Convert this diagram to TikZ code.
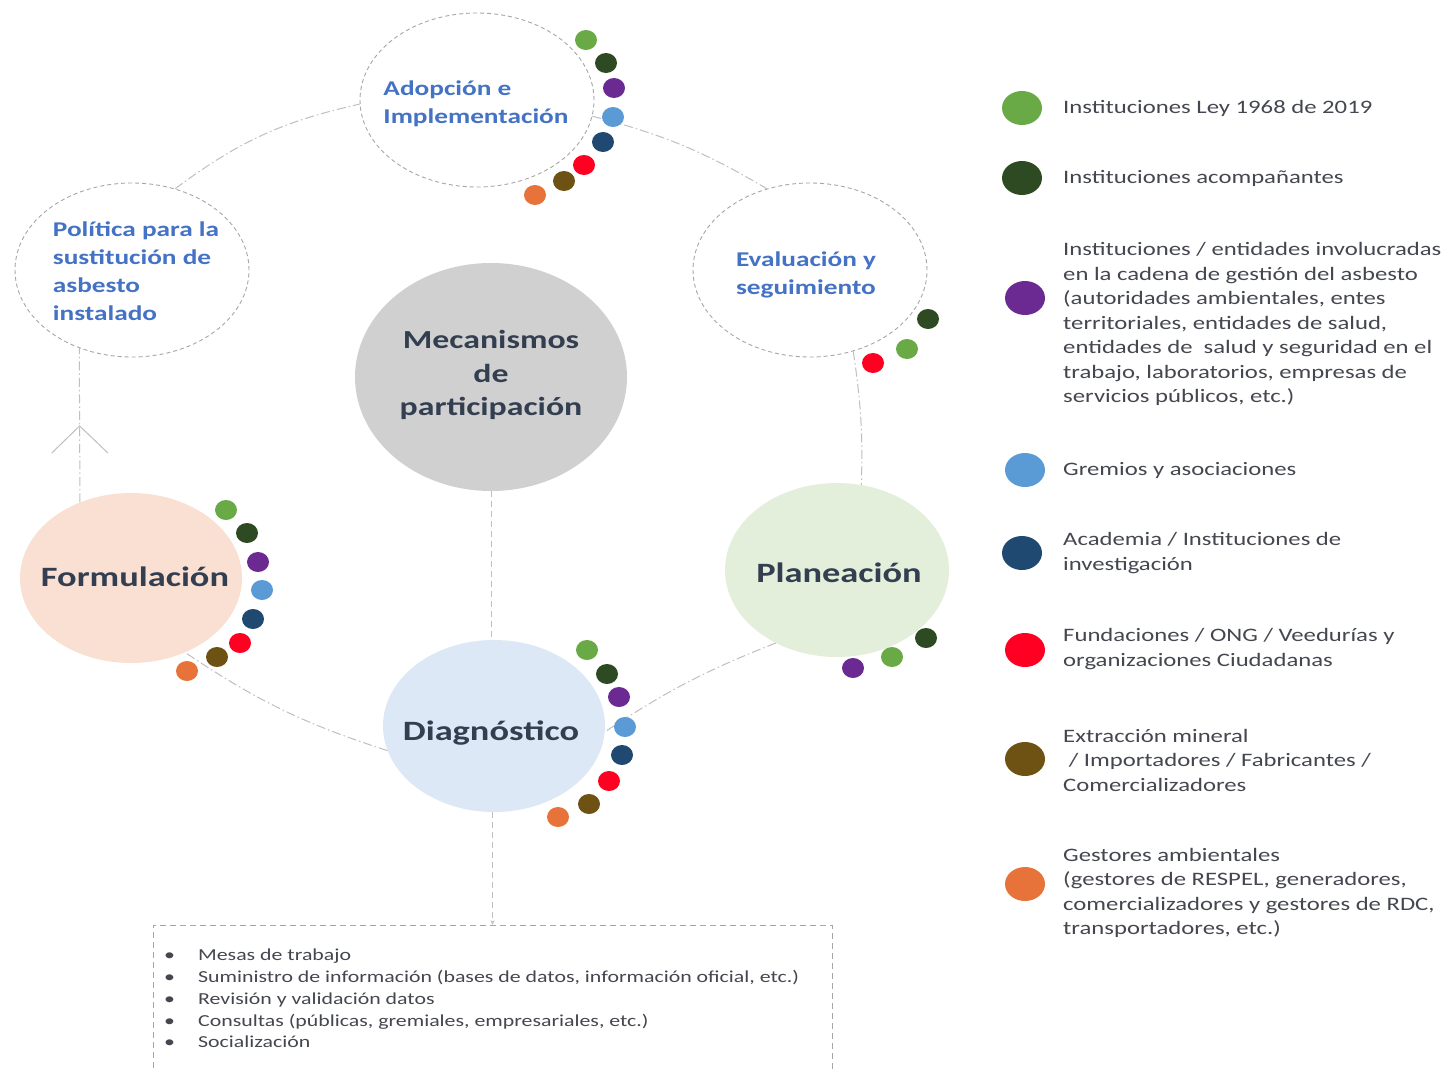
\documentclass[tikz,border=0pt]{standalone}
\usepackage{fontspec}
\setmainfont{Carlito}[FakeStretch=1.3]
\usetikzlibrary{shapes.geometric,arrows.meta,decorations.markings}
\definecolor{cGreen}{HTML}{6AAA46}
\definecolor{cDkGreen}{HTML}{2E4A23}
\definecolor{cPurple}{HTML}{6A2A92}
\definecolor{cLtBlue}{HTML}{5B9BD5}
\definecolor{cNavy}{HTML}{1F4971}
\definecolor{cRed}{HTML}{FF0022}
\definecolor{cBrown}{HTML}{6E5214}
\definecolor{cOrange}{HTML}{E8733A}
\definecolor{lblBlue}{HTML}{4472C4}
\definecolor{lblDark}{HTML}{333F50}
\definecolor{txtGray}{HTML}{44474F}
\definecolor{fillGray}{HTML}{D0D0D0}
\definecolor{fillPeach}{HTML}{F9E0D3}
\definecolor{fillGreen}{HTML}{E3EFDA}
\definecolor{fillBlue}{HTML}{DCE8F5}
\definecolor{lineGray}{HTML}{BFBFBF}
\definecolor{ringGray}{HTML}{A6A6A6}
\begin{document}
\begin{tikzpicture}[x=1pt,y=-1pt,
  ring/.style={ellipse,draw=ringGray,line width=0.9pt,dash pattern=on 4pt off 3pt,
     minimum width=234pt,minimum height=174pt,inner sep=0pt},
  ringtext/.style={inner sep=0pt,align=left,text=lblBlue,font=\bfseries\fontsize{21}{28}\selectfont},
  phase/.style={ellipse,inner sep=0pt},
  phasetext/.style={inner sep=0pt,text=lblDark,font=\bfseries\fontsize{28}{33}\selectfont},
  conn/.style={draw=lineGray,line width=1pt,dash pattern=on 9pt off 3pt on 1.5pt off 3pt},
  sdot/.style={ellipse,minimum width=22pt,minimum height=20pt,inner sep=0pt},
  ldot/.style={ellipse,minimum width=40pt,minimum height=34pt,inner sep=0pt},
  ltext/.style={anchor=west,inner sep=0pt,align=left,text=txtGray,font=\fontsize{19}{24.5}\selectfont},
  mark arrow/.style={postaction={decorate,decoration={markings,
     mark=at position #1 with {\arrow[draw=lineGray,line width=1pt]{Straight Barb[length=27pt,width=56pt]}}}}}
]
\useasboundingbox[fill=white] (0,0) rectangle (1447,1071);

% main ellipses
\node[ring] (ado) at (477,100) {};
\node[ringtext] (adoT) at (476,104) {Adopción e\\Implementación};
\node[ring] (pol) at (132,270) {};
\node[ringtext] (polT) at (136,271) {Política para la\\sustitución de\\asbesto\\instalado};
\node[ring] (eva) at (810,270) {};
\node[ringtext] (evaT) at (806,275) {Evaluación y\\seguimiento};
\node[phase,fill=fillGray,minimum width=272pt,minimum height=228pt] (mec) at (491,377) {};
\node[phasetext,align=center,font=\bfseries\fontsize{26}{33.5}\selectfont] (mecT) at (491,375) {Mecanismos\\de\\participación};
\node[phase,fill=fillPeach,minimum width=222pt,minimum height=170pt] (form) at (131,578) {};
\node[phasetext] (formT) at (135,577) {Formulación};
\node[phase,fill=fillGreen,minimum width=224pt,minimum height=174pt] (pla) at (837,570) {};
\node[phasetext] (plaT) at (839,573) {Planeación};
\node[phase,fill=fillBlue,minimum width=222pt,minimum height=172pt] (dia) at (494,726) {};
\node[phasetext] (diaT) at (491,733) {Diagnóstico};

% bottom box
\node[draw=ringGray,line width=0.8pt,dash pattern=on 6pt off 4pt,minimum width=679pt,
      minimum height=175pt,anchor=north,inner sep=0pt] (box) at (492.5,925) {};
\node[anchor=north west,inner sep=0pt,align=left,text=txtGray,
      font=\fontsize{16.8}{21.75}\selectfont] (blist) at (164,949)
  {\makebox[34pt][l]{\textbullet}Mesas de trabajo\\
   \makebox[34pt][l]{\textbullet}Suministro de información (bases de datos, información oficial, etc.)\\
   \makebox[34pt][l]{\textbullet}Revisión y validación datos\\
   \makebox[34pt][l]{\textbullet}Consultas (públicas, gremiales, empresariales, etc.)\\
   \makebox[34pt][l]{\textbullet}Socialización};

% connectors
\draw[conn] (pol.62) to[bend left=12] (ado.182);
\draw[conn] (ado.-8) to[bend left=8] (eva.118);
\draw[conn] (eva.-62) to[bend left=5] (pla.74);
\draw[conn] (pla.-130) to[bend right=6] (dia.-3);
\draw[conn] (dia.193) to[bend left=8] (form.-54);
\draw[conn,mark arrow=0.5] (form.124) -- (pol.-124);
\draw[draw=lineGray,line width=1pt,dash pattern=on 6pt off 4pt] (mec.south) -- (mec.south |- dia.north);
\draw[draw=lineGray,line width=1pt,dash pattern=on 6pt off 4pt,-{Stealth[length=5pt,width=4pt]}]
   (box.north |- dia.south) -- (box.north);

% dots around Adopcion
\foreach \c/\x/\y [count=\i] in {cGreen/586/40,cDkGreen/606/63,cPurple/614/88,cLtBlue/613/117,
   cNavy/603/142,cRed/584/165,cBrown/564/181,cOrange/535/195}
  \node[sdot,fill=\c] (ad\i) at (\x,\y) {};
% Evaluacion
\foreach \c/\x/\y [count=\i] in {cDkGreen/928/319,cGreen/907/349,cRed/873/363}
  \node[sdot,fill=\c] (ed\i) at (\x,\y) {};
% Formulacion
\foreach \c/\x/\y [count=\i] in {cGreen/226/510,cDkGreen/247/533,cPurple/258/562,cLtBlue/262/590,
   cNavy/253/619,cRed/240/643,cBrown/217/657,cOrange/187/671}
  \node[sdot,fill=\c] (fd\i) at (\x,\y) {};
% Planeacion
\foreach \c/\x/\y [count=\i] in {cDkGreen/926/638,cGreen/892/657,cPurple/853/668}
  \node[sdot,fill=\c] (pd\i) at (\x,\y) {};
% Diagnostico
\foreach \c/\x/\y [count=\i] in {cGreen/587/650,cDkGreen/607/674,cPurple/619/697,cLtBlue/625/727,
   cNavy/622/755,cRed/609/781,cBrown/589/804,cOrange/558/817}
  \node[sdot,fill=\c] (dd\i) at (\x,\y) {};

% legend
\node[ldot,fill=cGreen] (l1) at (1022,108) {};
\node[ltext] (t1) at (1063,108) {Instituciones Ley 1968 de 2019};
\node[ldot,fill=cDkGreen] (l2) at (1022,178) {};
\node[ltext] (t2) at (1063,178) {Instituciones acompañantes};
\node[ldot,fill=cPurple] (l3) at (1025,298) {};
\node[ltext] (t3) at (1063,324) {Instituciones / entidades involucradas\\en la cadena de gestión del asbesto\\(autoridades ambientales, entes\\territoriales, entidades de salud,\\entidades de\ \ salud y seguridad en el\\trabajo, laboratorios, empresas de\\servicios públicos, etc.)};
\node[ldot,fill=cLtBlue] (l4) at (1025,470) {};
\node[ltext] (t4) at (1063,470) {Gremios y asociaciones};
\node[ldot,fill=cNavy] (l5) at (1022,553) {};
\node[ltext] (t5) at (1063,553) {Academia / Instituciones de\\investigación};
\node[ldot,fill=cRed] (l6) at (1025,650) {};
\node[ltext] (t6) at (1063,649) {Fundaciones / ONG / Veedurías y\\organizaciones Ciudadanas};
\node[ldot,fill=cBrown] (l7) at (1025,759) {};
\node[ltext] (t7) at (1063,760) {Extracción mineral\\\ / Importadores / Fabricantes /\\Comercializadores};
\node[ldot,fill=cOrange] (l8) at (1025,884) {};
\node[ltext] (t8) at (1063,893) {Gestores ambientales\\(gestores de RESPEL, generadores,\\comercializadores y gestores de RDC,\\transportadores, etc.)};
\end{tikzpicture}
\end{document}
